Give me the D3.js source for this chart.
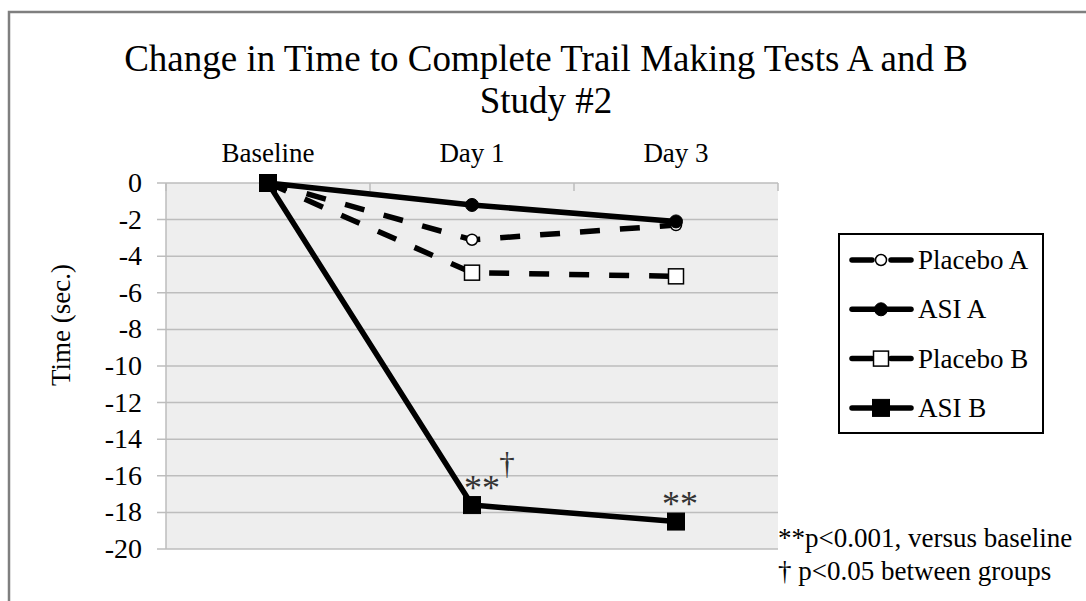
<!DOCTYPE html>
<html>
<head>
<meta charset="utf-8">
<script src="https://cdn.jsdelivr.net/npm/d3@7.9.0/dist/d3.min.js"></script>
<style>
  body { margin: 0; background: #fff; }
  svg { display: block; font-family: "Liberation Serif", "Times New Roman", serif; }
</style>
</head>
<body>
<svg id="chart" width="1086" height="601"></svg>
<script>
// ----- Data -----
const categories = ["Baseline", "Day 1", "Day 3"];
const placeboA = [0, -3.1, -2.3];
const asiA = [0, -1.2, -2.1];
const placeboB = [0, -4.9, -5.1];
const asiB = [0, -17.6, -18.5];
const yTicks = [0, -2, -4, -6, -8, -10, -12, -14, -16, -18, -20];

const series = [
  { name: "Placebo A", values: placeboA, dashed: true, marker: "circle", filled: false },
  { name: "ASI A", values: asiA, dashed: false, marker: "circle", filled: true },
  { name: "Placebo B", values: placeboB, dashed: true, marker: "square", filled: false },
  { name: "ASI B", values: asiB, dashed: false, marker: "square", filled: true }
];

const svg = d3.select("#chart");

// outer frame
svg.append("path")
  .attr("d", "M9,601 V12 H1086")
  .attr("fill", "none").attr("stroke", "#7f7f7f").attr("stroke-width", 2.5);

// title
svg.append("text").attr("x", 546).attr("y", 71)
  .attr("text-anchor", "middle").attr("font-size", 37)
  .text("Change in Time to Complete Trail Making Tests A and B");
svg.append("text").attr("x", 546).attr("y", 113)
  .attr("text-anchor", "middle").attr("font-size", 37)
  .text("Study #2");

// ----- Scales -----
const plot = { left: 166, right: 778, top: 183, bottom: 549 };
const x = d3.scaleBand().domain(categories).range([plot.left, plot.right]);
const y = d3.scaleLinear().domain([0, -20]).range([plot.top, plot.bottom]);

const g = svg.append("g");

g.append("rect")
  .attr("x", plot.left).attr("y", plot.top)
  .attr("width", plot.right - plot.left).attr("height", plot.bottom - plot.top)
  .attr("fill", "#eeeeee");

// gridlines
g.selectAll(".grid").data(yTicks.filter(d => d !== 0)).enter()
  .append("line")
  .attr("x1", plot.left - 9).attr("x2", plot.right)
  .attr("y1", d => y(d)).attr("y2", d => y(d))
  .attr("stroke", "#bdbdbd").attr("stroke-width", 1.5);

// y axis line
g.append("line")
  .attr("x1", plot.left).attr("x2", plot.left)
  .attr("y1", plot.top).attr("y2", plot.bottom)
  .attr("stroke", "#bdbdbd").attr("stroke-width", 1.5);

// x axis (at 0, on top)
g.append("line")
  .attr("x1", plot.left - 9).attr("x2", plot.right)
  .attr("y1", y(0)).attr("y2", y(0))
  .attr("stroke", "#bdbdbd").attr("stroke-width", 1.5);
const bounds = categories.map(c => x(c)).concat([plot.right]);
g.selectAll(".xtick").data(bounds).enter()
  .append("line")
  .attr("x1", d => d).attr("x2", d => d)
  .attr("y1", y(0)).attr("y2", y(0) + 8)
  .attr("stroke", "#bdbdbd").attr("stroke-width", 1.5);

// y tick labels
g.selectAll(".ylab").data(yTicks).enter()
  .append("text")
  .attr("x", 142).attr("y", d => y(d) + 9)
  .attr("text-anchor", "end").attr("font-size", 28)
  .text(d => d);

// x labels
g.selectAll(".xlab").data(categories).enter()
  .append("text")
  .attr("x", d => x(d) + x.bandwidth() / 2).attr("y", 162)
  .attr("text-anchor", "middle").attr("font-size", 27)
  .text(d => d);

// y axis title
svg.append("text")
  .attr("transform", "translate(70,325) rotate(-90)")
  .attr("text-anchor", "middle").attr("font-size", 27)
  .text("Time (sec.)");

// ----- Series -----
const line = d3.line()
  .x((d, i) => x(categories[i]) + x.bandwidth() / 2)
  .y(d => y(d));

function drawMarker(sel, s, cx, cy) {
  if (s.marker === "circle") {
    sel.append("circle").attr("cx", cx).attr("cy", cy)
      .attr("r", s.filled ? 6.5 : 5.5)
      .attr("fill", s.filled ? "#000" : "#fff")
      .attr("stroke", "#000").attr("stroke-width", s.filled ? 1 : 1.5);
  } else {
    const sz = s.filled ? 17 : 15;
    sel.append("rect").attr("x", cx - sz / 2).attr("y", cy - sz / 2)
      .attr("width", sz).attr("height", sz)
      .attr("fill", s.filled ? "#000" : "#fff")
      .attr("stroke", "#000").attr("stroke-width", s.filled ? 1 : 1.5);
  }
}

series.forEach(s => {
  const sg = g.append("g");
  sg.append("path")
    .attr("d", line(s.values))
    .attr("fill", "none").attr("stroke", "#000").attr("stroke-width", 5.5)
    .attr("stroke-dasharray", s.dashed ? "20,20" : null)
    .attr("stroke-linejoin", "round");
  s.values.forEach((v, i) => {
    drawMarker(sg, s, x(categories[i]) + x.bandwidth() / 2, y(v));
  });
});

// significance marks
const d1 = x("Day 1") + x.bandwidth() / 2;
const d3x = x("Day 3") + x.bandwidth() / 2;
g.append("text").attr("x", d1 - 8).attr("y", y(asiB[1]) - 5)
  .attr("font-size", 36).attr("fill", "#333").text("**");
g.append("text").attr("x", d1 + 35).attr("y", y(asiB[1]) - 31)
  .attr("font-size", 31).attr("text-anchor", "middle").attr("fill", "#333").text("†");
g.append("text").attr("x", d3x - 14).attr("y", y(asiB[2]) - 6)
  .attr("font-size", 36).attr("fill", "#333").text("**");

// ----- Legend -----
const leg = svg.append("g");
leg.append("rect").attr("x", 839).attr("y", 234).attr("width", 204).attr("height", 199)
  .attr("fill", "#fff").attr("stroke", "#000").attr("stroke-width", 2);
series.forEach((s, i) => {
  const cy = 260 + i * 49.3;
  if (s.dashed) {
    leg.append("line").attr("x1", 852).attr("x2", 872).attr("y1", cy).attr("y2", cy)
      .attr("stroke", "#000").attr("stroke-width", 5.5).attr("stroke-linecap", "round");
    leg.append("line").attr("x1", 891).attr("x2", 911).attr("y1", cy).attr("y2", cy)
      .attr("stroke", "#000").attr("stroke-width", 5.5).attr("stroke-linecap", "round");
  } else {
    leg.append("line").attr("x1", 852).attr("x2", 911).attr("y1", cy).attr("y2", cy)
      .attr("stroke", "#000").attr("stroke-width", 5.5).attr("stroke-linecap", "round");
  }
  drawMarker(leg, s, 881, cy);
  leg.append("text").attr("x", 918).attr("y", cy + 9).attr("font-size", 27).text(s.name);
});

// footnotes
svg.append("text").attr("x", 778).attr("y", 547).attr("font-size", 27)
  .text("**p<0.001, versus baseline");
svg.append("text").attr("x", 778).attr("y", 580).attr("font-size", 27)
  .text("† p<0.05 between groups");
</script>
</body>
</html>
